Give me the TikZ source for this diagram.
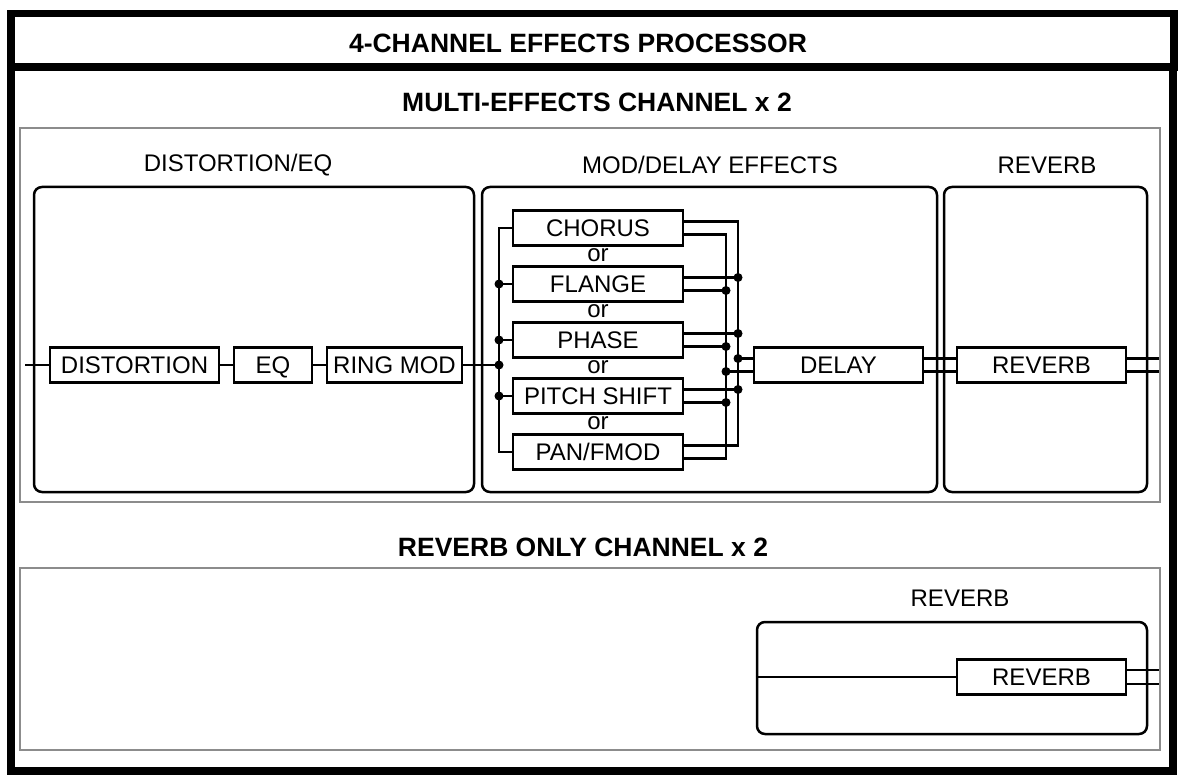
\documentclass[tikz,border=0pt]{standalone}
\usepackage{fontspec}
\setmainfont{Liberation Sans}
\usetikzlibrary{positioning,calc}
\newcommand{\lblfont}{\fontsize{24}{28}\selectfont}
\newcommand{\hdrfont}{\fontsize{26.5}{30}\selectfont\bfseries}

\begin{document}
\begin{tikzpicture}[
  x=1pt, y=-1pt,
  fx/.style={draw, line width=2.5pt, minimum height=35pt, inner sep=0pt, text height=17pt, text depth=0pt, font=\lblfont},
  grp/.style={draw, line width=2.5pt, rounded corners=8pt, inner sep=0pt},
  panel/.style={draw=black!45, line width=2.2pt},
  frm/.style={draw, line width=8pt},
  wire/.style={line width=2.5pt},
  jn/.style={circle, fill, inner sep=0pt, minimum size=9pt},
  hdr/.style={font=\hdrfont, inner sep=0pt},
  lbl/.style={font=\lblfont, inner sep=0pt},
]
\useasboundingbox (0,0) rectangle (1180,775);

% frame and headings
\draw[frm] (11,67) rectangle (1173,771);
\draw[frm, line width=7.5pt, fill=white] (11,13.5) rectangle (1174,67);
\node[hdr] (ttl) at (578,43) {4-CHANNEL EFFECTS PROCESSOR};
\node[hdr] (mch) at (597,102.5) {MULTI-EFFECTS CHANNEL x 2};
\node[hdr] (rch) at (583,547.5) {REVERB ONLY CHANNEL x 2};

\draw[panel] (20,128) rectangle (1160,502);
\draw[panel] (20,568) rectangle (1160,750);

% groups
\node[grp, minimum width=440pt, minimum height=305pt] (dgrp) at (254,339.5) {};
\node[grp, minimum width=455pt, minimum height=305pt] (mgrp) at (709.5,339.5) {};
\node[grp, minimum width=203pt, minimum height=305pt] (rgrp) at (1045.5,339.5) {};
\node[grp, minimum width=390pt, minimum height=112pt] (rgrp2) at (952,678) {};

\node[lbl] (dlbl) at (238,165) {DISTORTION/EQ};
\node[lbl] (mlbl) at (710,165) {MOD/DELAY EFFECTS};
\node[lbl] (rlbl) at (1047,165) {REVERB};
\node[lbl] (rlbl2) at (960,598) {REVERB};

% distortion chain
\node[fx, minimum width=169pt] (dist) at (134.5,365) {DISTORTION};
\node[fx, minimum width=78pt] (eq) at (273,365) {EQ};
\node[fx, minimum width=135pt] (ring) at (394.5,365) {RING MOD};

\coordinate (in) at (25,365);
\coordinate (lb) at (499,365);
\draw[wire] (in) -- (dist.west);
\draw[wire] (dist) -- (eq);
\draw[wire] (eq) -- (ring);
\draw[wire] (ring.east) -- (lb);
\node[jn] at (lb) {};

% mod effects
\foreach \n/\t [count=\i from 0] in {cho/CHORUS, flg/FLANGE, pha/PHASE, pit/PITCH SHIFT, pan/{PAN/FMOD}}
  \node[fx, minimum width=170pt] (\n) at (598,228+56*\i) {\t};
\foreach \i in {0,...,3}
  \node[lbl] (or\i) at (598,255+56*\i) {or};

\draw[wire] (cho.west) -| (lb |- pan.west) -- (pan.west);
\foreach \n in {flg,pha,pit} {
  \draw[wire] (lb |- \n.west) -- (\n.west);
  \node[jn] at (lb |- \n.west) {};
}

\coordinate (ob) at (738,0);
\coordinate (ib) at (726,0);
\foreach \n in {cho,flg,pha,pit,pan} {
  \coordinate (\n-u) at ([yshift=6.5pt]\n.east);
  \coordinate (\n-l) at ([yshift=-6.5pt]\n.east);
}
\draw[wire] (cho-u) -| (ob |- pan-u) -- (pan-u);
\draw[wire] (cho-l) -| (ib |- pan-l) -- (pan-l);
\foreach \n in {flg,pha,pit} {
  \draw[wire] (\n-u) -- (ob |- \n-u);
  \node[jn] at (ob |- \n-u) {};
  \draw[wire] (\n-l) -- (ib |- \n-l);
  \node[jn] at (ib |- \n-l) {};
}

% delay and reverb
\node[fx, minimum width=169pt] (dly) at (838.5,365) {DELAY};
\node[fx, minimum width=169pt] (rv) at (1041.5,365) {REVERB};
\coordinate (dly-u) at ([yshift=6.5pt]dly.west);
\coordinate (dly-l) at ([yshift=-6.5pt]dly.west);
\draw[wire] (ob |- dly-u) -- (dly-u);
\draw[wire] (ib |- dly-l) -- (dly-l);
\node[jn] at (ob |- dly-u) {};
\node[jn] at (ib |- dly-l) {};

\draw[wire] ([yshift=6.5pt]dly.east) -- ([yshift=6.5pt]rv.west);
\draw[wire] ([yshift=-6.5pt]dly.east) -- ([yshift=-6.5pt]rv.west);
\draw[wire] ([yshift=6.5pt]rv.east) -- ++(32,0);
\draw[wire] ([yshift=-6.5pt]rv.east) -- ++(32,0);

% reverb only channel
\node[fx, minimum width=169pt] (rv2) at (1041.5,677) {REVERB};
\draw[wire] (rgrp2.west |- rv2.west) -- (rv2.west);
\draw[wire] ([yshift=7pt]rv2.east) -- ++(32,0);
\draw[wire] ([yshift=-7pt]rv2.east) -- ++(32,0);

\end{tikzpicture}
\end{document}
